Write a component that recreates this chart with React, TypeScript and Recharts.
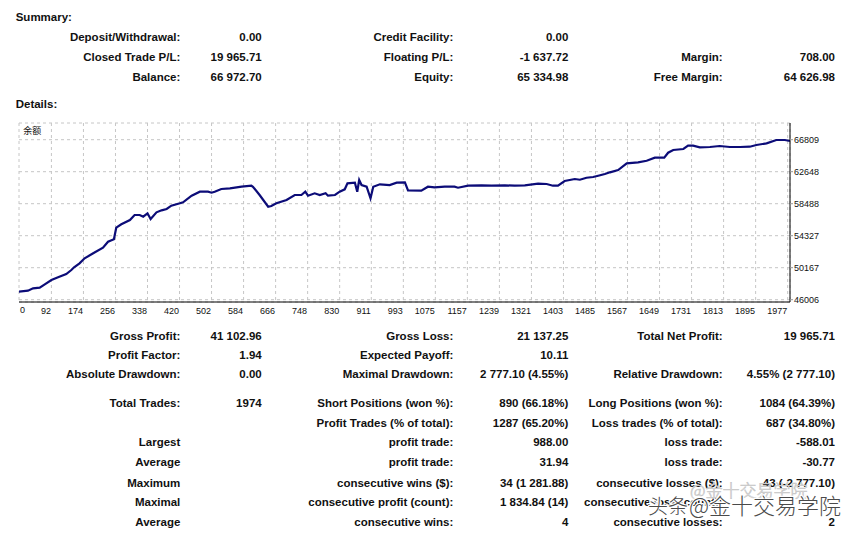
import { CartesianGrid, Line, LineChart, XAxis, YAxis } from "recharts";

// balance curve
const TRADE_NO = [
  0, 32, 45, 62, 75, 92, 109, 130, 143, 150,
  164, 177, 199, 224, 237, 252, 258, 271, 293, 305,
  318, 327, 338, 346, 361, 374, 387, 399, 421, 429,
  451, 472, 493, 502, 510, 527, 549, 579, 604, 608,
  625, 647, 655, 668, 694, 715, 732, 742, 749, 766,
  779, 794, 800, 818, 830, 843, 850, 869, 875, 880,
  886, 899, 909, 916, 933, 958, 976, 997, 1005, 1039,
  1056, 1073, 1099, 1124, 1133, 1159, 1193, 1219, 1253, 1278,
  1304, 1338, 1360, 1376, 1389, 1406, 1432, 1445, 1462, 1479,
  1492, 1509, 1522, 1543, 1565, 1594, 1616, 1637, 1661, 1671,
  1684, 1710, 1722, 1735, 1752, 1778, 1803, 1829, 1855, 1880,
  1897, 1923, 1948, 1970, 1983,
];

const BALANCE = [
  47007, 47176, 47488, 47566, 48008, 48567, 48918, 49347, 49867, 50218,
  50738, 51388, 52038, 52766, 53546, 53858, 55366, 55808, 56367, 57017,
  57017, 56796, 57238, 56497, 57368, 57628, 57797, 58226, 58538, 58668,
  59526, 60046, 60046, 59916, 60046, 60397, 60488, 60696, 60826, 60696,
  59617, 58096, 58187, 58538, 58967, 59617, 59617, 60046, 59526, 59838,
  59617, 59838, 59526, 59617, 60046, 60358, 61138, 61216, 60046, 61567,
  60917, 60696, 59188, 60696, 61008, 60917, 61216, 61268, 60202, 60176,
  60696, 60618, 60696, 60696, 60566, 60826, 60878, 60826, 60878, 60826,
  60878, 61086, 61047, 60826, 60826, 61437, 61697, 61606, 61866, 61957,
  62126, 62347, 62568, 62867, 63738, 63868, 64076, 64466, 64466, 65116,
  65467, 65597, 66026, 66026, 65818, 65857, 65987, 65857, 65857, 65896,
  66117, 66338, 66767, 66767, 66637,
];

const X_TICKS = [
  92, 174, 256, 338, 420, 502, 584, 666, 748, 830, 911, 993,
  1075, 1157, 1239, 1321, 1403, 1485, 1567, 1649, 1731, 1813, 1895, 1977,
];
const Y_TICKS = [46006, 50167, 54327, 58488, 62648, 66809];

const SUMMARY_LABELS = [
  ["Deposit/Withdrawal:", "Credit Facility:", ""],
  ["Closed Trade P/L:", "Floating P/L:", "Margin:"],
  ["Balance:", "Equity:", "Free Margin:"],
];
const SUMMARY_VALUES = [
  ["0.00", "0.00", ""],
  ["19 965.71", "-1 637.72", "708.00"],
  ["66 972.70", "65 334.98", "64 626.98"],
];

const DETAIL_LABELS = [
  ["Gross Profit:", "Gross Loss:", "Total Net Profit:"],
  ["Profit Factor:", "Expected Payoff:", ""],
  ["Absolute Drawdown:", "Maximal Drawdown:", "Relative Drawdown:"],
  ["Total Trades:", "Short Positions (won %):", "Long Positions (won %):"],
  ["", "Profit Trades (% of total):", "Loss trades (% of total):"],
  ["Largest", "profit trade:", "loss trade:"],
  ["Average", "profit trade:", "loss trade:"],
  ["Maximum", "consecutive wins ($):", "consecutive losses ($):"],
  ["Maximal", "consecutive profit (count):", "consecutive loss (count):"],
  ["Average", "consecutive wins:", "consecutive losses:"],
];
const DETAIL_VALUES = [
  ["41 102.96", "21 137.25", "19 965.71"],
  ["1.94", "10.11", ""],
  ["0.00", "2 777.10 (4.55%)", "4.55% (2 777.10)"],
  ["1974", "890 (66.18%)", "1084 (64.39%)"],
  ["", "1287 (65.20%)", "687 (34.80%)"],
  ["", "988.00", "-588.01"],
  ["", "31.94", "-30.77"],
  ["", "34 (1 281.88)", "43 (-2 777.10)"],
  ["", "1 834.84 (14)", ""],
  ["", "4", "2"],
];

const W = 867;
const H = 533;
const FONT = "'Liberation Sans', Arial, sans-serif";
const CJK = "'Noto Sans CJK SC', sans-serif";
const LABEL_RIGHT = [180.3, 453.3, 722.7];
const VALUE_RIGHT = [261.7, 568.3, 835];
const SUMMARY_Y = [37, 57, 77];
const DETAIL_Y = [335.3, 354.3, 374, 402.7, 422.7, 442, 462, 482.3, 502, 522];

const data = TRADE_NO.map((t, i) => ({ trade: t, balance: BALANCE[i] }));

function Cell({ text, right, y }: { text: string; right: number; y: number }) {
  if (!text) return null;
  return (
    <div
      style={{
        position: "absolute",
        right: W - right,
        top: y - 6.7,
        lineHeight: "14px",
        whiteSpace: "nowrap",
      }}
    >
      {text}
    </div>
  );
}

function Rows({ labels, values, ys }: { labels: string[][]; values: string[][]; ys: number[] }) {
  return (
    <>
      {labels.map((row, r) =>
        row.map((lab, c) => (
          <div key={`${r}-${c}`}>
            <Cell text={lab} right={LABEL_RIGHT[c]} y={ys[r]} />
            <Cell text={values[r][c]} right={VALUE_RIGHT[c]} y={ys[r]} />
          </div>
        ))
      )}
    </>
  );
}

const XTick = (props: any) => {
  const { x, y, payload } = props;
  return (
    <text x={x - 0.5} y={y} dy={11.5} textAnchor="end" fontSize={9} fontFamily={FONT} fill="#111">
      {payload.value}
    </text>
  );
};

export default function App() {
  return (
    <div
      style={{
        position: "absolute",
        left: 0,
        top: 0,
        width: W,
        height: H,
        background: "#fff",
        fontFamily: FONT,
        fontWeight: 700,
        fontSize: 11.5,
        color: "#111",
        overflow: "hidden",
      }}
    >
      <div style={{ position: "absolute", left: 15.7, top: 16.7 - 6.7, lineHeight: "14px" }}>Summary:</div>
      <Rows labels={SUMMARY_LABELS} values={SUMMARY_VALUES} ys={SUMMARY_Y} />
      <div style={{ position: "absolute", left: 15.7, top: 103.7 - 6.7, lineHeight: "14px" }}>Details:</div>

      <div style={{ position: "absolute", left: 0, top: 118, fontWeight: 400 }}>
        <LineChart width={W} height={200} data={data} margin={{ top: 5, right: 0, bottom: 0, left: 19 }}>
          <CartesianGrid stroke="#c6c6c6" strokeDasharray="3 3" />
          <XAxis
            dataKey="trade"
            type="number"
            domain={[9, 1983]}
            allowDataOverflow
            ticks={X_TICKS}
            interval={0}
            height={16}
            tickSize={0}
            tickMargin={0}
            tickLine={false}
            axisLine={{ stroke: "#000" }}
            tick={<XTick />}
            label={{ value: "0", position: "insideLeft", offset: 1, dy: -0.5, fontSize: 9, fill: "#111", fontFamily: FONT }}
          />
          <XAxis
            xAxisId="top"
            orientation="top"
            type="number"
            domain={[9, 1983]}
            height={0}
            tick={false}
            tickLine={false}
            axisLine={{ stroke: "#000" }}
          />
          <YAxis
            orientation="right"
            type="number"
            domain={[45707, 68980]}
            allowDataOverflow
            ticks={Y_TICKS}
            interval={0}
            width={77}
            tickSize={3}
            tickMargin={1}
            tickLine={{ stroke: "#999" }}
            axisLine={{ stroke: "#000" }}
            tick={{ fontSize: 9, fill: "#111", fontFamily: FONT, textAnchor: "start" }}
          />
          <YAxis
            yAxisId="left"
            orientation="left"
            type="number"
            domain={[45707, 68980]}
            width={0}
            tick={false}
            tickLine={false}
            axisLine={{ stroke: "#000" }}
          />
          <Line
            dataKey="balance"
            type="linear"
            stroke="#0c0c78"
            strokeWidth={2.2}
            dot={false}
            isAnimationActive={false}
          />
        </LineChart>
      </div>
      <div
        style={{
          position: "absolute",
          left: 23.3,
          top: 125,
          fontSize: 9,
          fontWeight: 400,
          lineHeight: "12px",
          fontFamily: CJK,
        }}
      >
        余额
      </div>

      <Rows labels={DETAIL_LABELS} values={DETAIL_VALUES} ys={DETAIL_Y} />

      <svg
        width={W}
        height={H}
        style={{ position: "absolute", left: 0, top: 0, pointerEvents: "none", fontWeight: 300 }}
      >
        <text x={690} y={497} fontSize={17} fontFamily={CJK} fill="#f2f2f2" stroke="#c4c4c4" strokeWidth={0.6}>
          @金十交易学院
        </text>
        <text
          y={514}
          fontFamily={CJK}
          fill="#4a4a4a"
          stroke="#fff"
          strokeWidth={2.5}
          paintOrder="stroke"
          strokeLinejoin="round"
        >
          <tspan x={648} fontSize={20}>头条</tspan>
          <tspan x={689} fontSize={22}>@金十交易学院</tspan>
        </text>
      </svg>
    </div>
  );
}
